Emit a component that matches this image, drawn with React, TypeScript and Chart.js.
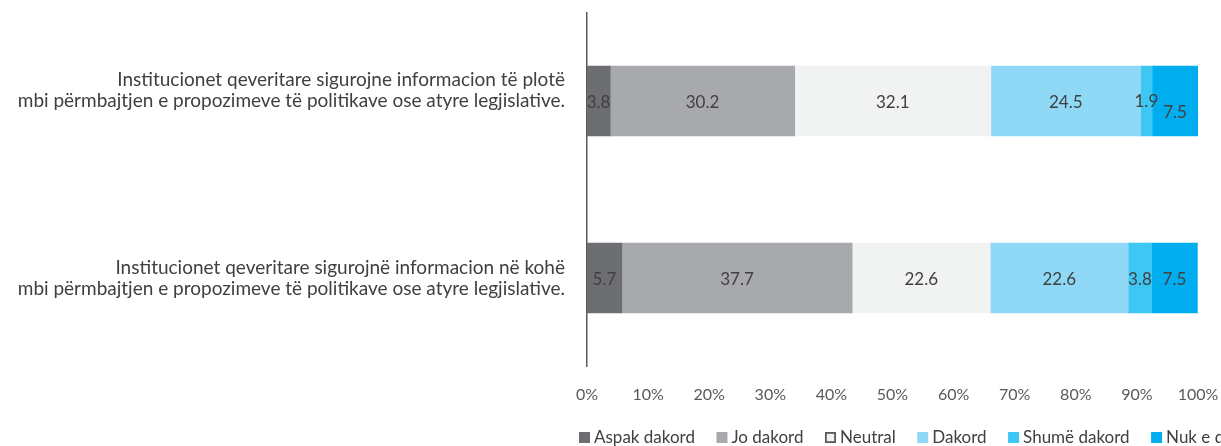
import React, { useEffect, useRef } from "react";
import { Chart, registerables } from "chart.js";

Chart.register(...registerables);

// ---- data ----
const categories: string[][] = [
  [
    "Institucionet qeveritare sigurojne informacion të plotë",
    "mbi përmbajtjen e propozimeve të politikave ose atyre legjislative.",
    "",
  ],
  [
    "Institucionet qeveritare sigurojnë informacion në kohë",
    "mbi përmbajtjen e propozimeve të politikave ose atyre legjislative.",
  ],
];

const seriesNames = ["Aspak dakord", "Jo dakord", "Neutral", "Dakord", "Shumë dakord", "Nuk e di"];

const aspakDakord = [3.8, 5.7];
const joDakord = [30.2, 37.7];
const neutral = [32.1, 22.6];
const dakord = [24.5, 22.6];
const shumeDakord = [1.9, 3.8];
const nukEDi = [7.5, 7.5];

const xTickValues = [0, 10, 20, 30, 40, 50, 60, 70, 80, 90, 100];

// ---- styles ----
const seriesColors = ["#6d6e71", "#a7a9ac", "#f1f2f2", "#8fd8f6", "#3fc7f4", "#00aeef"];
const FONT = "Lato";
const TEXT_DARK = "#404040";
const TEXT_TICK = "#595959";
// vertical nudges (px) for individual value labels, keyed "dataset:index"
const labelNudge: Record<string, number> = { "4:0": -1, "5:0": 10 };

const valueLabelPlugin = {
  id: "valueLabels",
  afterDatasetsDraw(chart: any) {
    const ctx = chart.ctx;
    ctx.save();
    ctx.font = `17px ${FONT}`;
    ctx.fillStyle = TEXT_DARK;
    ctx.textAlign = "center";
    ctx.textBaseline = "middle";
    chart.data.datasets.forEach((ds: any, di: number) => {
      const meta = chart.getDatasetMeta(di);
      meta.data.forEach((bar: any, i: number) => {
        const v = ds.data[i];
        const p = bar.getProps(["x", "y", "base"], true);
        const nudge = labelNudge[`${di}:${i}`] || 0;
        ctx.fillText(Number(v).toFixed(1), (p.x + p.base) / 2, p.y + 2 + nudge);
      });
    });
    ctx.restore();
  },
};

const legendPlugin = {
  id: "bottomLegend",
  afterDraw(chart: any) {
    const ctx = chart.ctx;
    const area = chart.chartArea;
    ctx.save();
    ctx.font = `17px ${FONT}`;
    ctx.textBaseline = "middle";
    ctx.textAlign = "left";
    let x = area.left - 8;
    const y = area.bottom + 71;
    const box = 11;
    chart.data.datasets.forEach((ds: any, di: number) => {
      ctx.fillStyle = ds.backgroundColor;
      ctx.fillRect(x, y - box / 2, box, box);
      if (di === 2) {
        ctx.strokeStyle = "#595959";
        ctx.lineWidth = 1.8;
        ctx.strokeRect(x + 0.9, y - box / 2 + 0.9, box - 1.8, box - 1.8);
      }
      ctx.fillStyle = TEXT_DARK;
      const tx = x + box + 4;
      ctx.fillText(ds.label, tx, y);
      x = tx + ctx.measureText(ds.label).width + 21.5;
    });
    ctx.restore();
  },
};

export default function App() {
  const ref = useRef<HTMLCanvasElement | null>(null);

  useEffect(() => {
    if (!ref.current) return;
    const seriesData = [aspakDakord, joDakord, neutral, dakord, shumeDakord, nukEDi];
    const chart = new Chart(ref.current, {
      type: "bar",
      data: {
        labels: categories,
        datasets: seriesNames.map((name, i) => ({
          label: name,
          data: seriesData[i],
          backgroundColor: seriesColors[i],
          borderWidth: 0,
          barThickness: 70,
        })),
      },
      options: {
        indexAxis: "y",
        animation: false,
        responsive: true,
        maintainAspectRatio: false,
        layout: { padding: { left: 0, right: 23, top: 12.5, bottom: 43.5 } },
        plugins: {
          legend: { display: false },
          tooltip: { enabled: false },
        },
        scales: {
          x: {
            stacked: true,
            min: 0,
            max: 100,
            afterBuildTicks: (scale: any) => {
              scale.ticks = xTickValues.map((v) => ({ value: v }));
            },
            afterFit: (scale: any) => {
              scale.height = 36;
              scale.paddingLeft = 0;
              scale.paddingRight = 0;
            },
            grid: { display: false, drawTicks: false },
            border: { display: false },
            ticks: {
              padding: 19,
              color: TEXT_TICK,
              font: { family: FONT, size: 16 },
              callback: (v: any) => `${v}%`,
            },
          },
          y: {
            stacked: true,
            afterFit: (scale: any) => {
              scale.width = 587;
              scale.paddingTop = 0;
              scale.paddingBottom = 0;
            },
            grid: { display: false, drawTicks: false },
            border: { display: true, color: "#595959", width: 1.5 },
            ticks: {
              padding: 22,
              color: TEXT_DARK,
              font: { family: FONT, size: 19, lineHeight: "21px" },
            },
          },
        },
      },
      plugins: [valueLabelPlugin, legendPlugin],
    } as any);
    return () => chart.destroy();
  }, []);

  return (
    <div style={{ position: "absolute", left: 0, top: 0, width: 1221, height: 446, background: "#fff" }}>
      <canvas ref={ref} />
    </div>
  );
}
